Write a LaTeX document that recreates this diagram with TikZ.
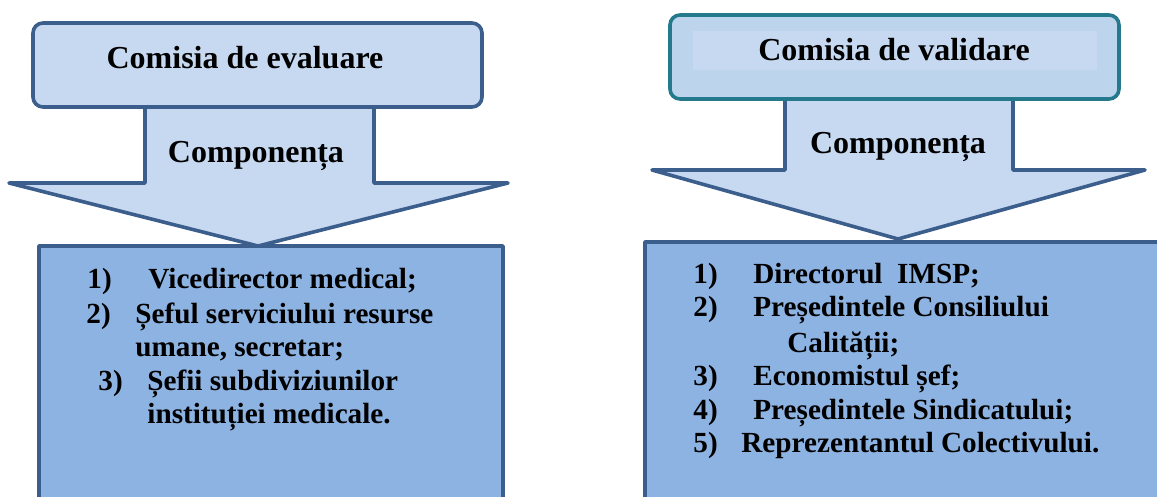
\documentclass[tikz,border=0pt]{standalone}
\usepackage{fontspec}
\setmainfont{Liberation Serif}
\usetikzlibrary{positioning}
\definecolor{boxEdge}{RGB}{60,94,140}
\definecolor{boxTeal}{RGB}{36,121,140}
\definecolor{boxLight}{RGB}{198,217,240}
\definecolor{boxLightB}{RGB}{189,213,236}
\definecolor{boxMid}{RGB}{141,179,226}
\tikzset{
  head/.style={anchor=base, inner sep=0pt, font=\fontsize{16}{19}\selectfont\bfseries},
  item/.style={anchor=base west, inner sep=0pt, font=\fontsize{14.6}{17}\selectfont\bfseries},
  edge/.style={draw=boxEdge, line width=1.8pt, line join=round},
}

\begin{document}
\begin{tikzpicture}[x=0.5pt, y=-0.5pt]
  \useasboundingbox (0,0) rectangle (1157,497);

  % --- evaluation committee ---
  \filldraw[boxLight, edge] (145,100) -- (145,183) -- (9,183) -- (258,246)
    -- (508,183) -- (374,183) -- (374,100);
  \filldraw[boxLight, edge, rounded corners=5pt] (33,23) rectangle (482,107);
  \filldraw[boxMid, edge] (39,560) -- (39,246) -- (503,246) -- (503,560);

  \node[head] (evalTitle) at (245,69) {Comisia de evaluare};
  \node[head] (evalComp) at (256,163) {Componența};

  \foreach \n/\x/\y in {1/87/289, 2/86/324, 3/98/390}
    \node[item] (evalNum\n) at (\x,\y) {\n)};
  \node[item] (evalItemA) at (148,289) {Vicedirector medical;};
  \node[item] (evalItemB) at (135,324) {Șeful serviciului resurse};
  \node[item] (evalItemBb) at (135,357) {umane, secretar;};
  \node[item] (evalItemC) at (147,390) {Șefii subdiviziunilor};
  \node[item] (evalItemCc) at (147,423) {instituției medicale.};

  % --- validation committee ---
  \filldraw[boxLight, edge] (785,95) -- (785,170) -- (652,170) -- (898,239)
    -- (1145,170) -- (1013,170) -- (1013,95);
  \filldraw[boxLightB, draw=boxTeal, line width=1.8pt, rounded corners=5pt]
    (670,15) rectangle (1119,99);
  \fill[boxLight] (693,31) rectangle (1097,70);
  \filldraw[boxMid, edge] (645,560) -- (645,242) -- (1170,242) -- (1170,560);

  \node[head] (validTitle) at (894,61) {Comisia de validare};
  \node[head] (validComp) at (898,154) {Componența};

  \foreach \n/\y in {1/284, 2/317, 3/386, 4/419, 5/452}
    \node[item] (validNum\n) at (693,\y) {\n)};
  \node[item] (validItemA) at (753,284) {Directorul\ \ IMSP;};
  \node[item] (validItemB) at (753,317) {Președintele Consiliului};
  \node[item] (validItemBb) at (787,352) {Calității;};
  \node[item] (validItemC) at (753,386) {Economistul șef;};
  \node[item] (validItemD) at (753,419) {Președintele Sindicatului;};
  \node[item] (validItemE) at (741,452) {Reprezentantul Colectivului.};
\end{tikzpicture}
\end{document}
